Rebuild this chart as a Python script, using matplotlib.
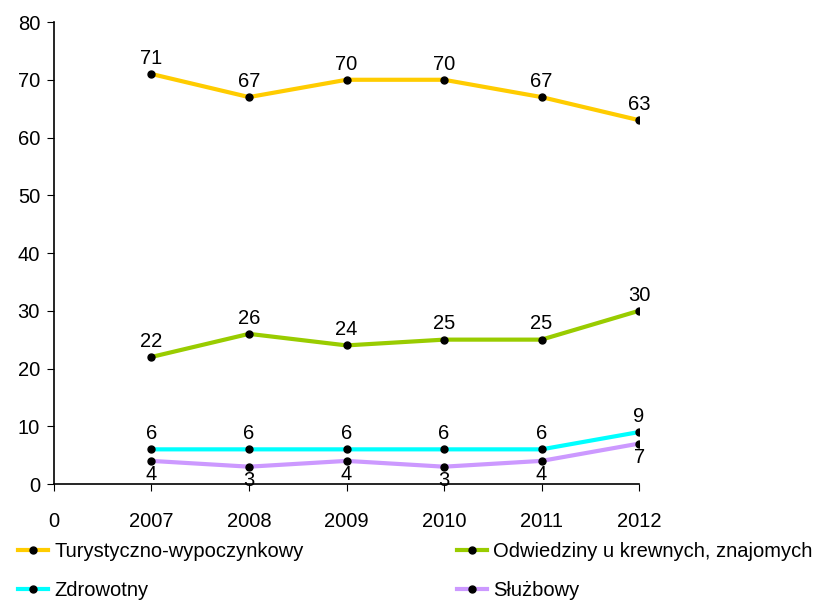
import matplotlib.pyplot as plt

# dane
lata = ["2007", "2008", "2009", "2010", "2011", "2012"]
turystyczno = [71, 67, 70, 70, 67, 63]
odwiedziny = [22, 26, 24, 25, 25, 30]
zdrowotny = [6, 6, 6, 6, 6, 9]
sluzbowy = [4, 3, 4, 3, 4, 7]

serie = [
    ("Turystyczno-wypoczynkowy", turystyczno, "#FFCC00", "above"),
    ("Odwiedziny u krewnych, znajomych", odwiedziny, "#99CC00", "above"),
    ("Zdrowotny", zdrowotny, "#00FFFF", "above"),
    ("Służbowy", sluzbowy, "#CC99FF", "below"),
]

plt.rcParams['font.family'] = ['Liberation Sans', 'DejaVu Sans']
plt.rcParams['font.size'] = 14.5

fig = plt.figure(figsize=(8.3, 6.05), dpi=100)
ax = fig.add_axes([0.065, 0.2, 0.705, 0.7636])

x = list(range(1, len(lata) + 1))
handles = []
for nazwa, wart, kolor, poz in serie:
    h, = ax.plot(x, wart, color=kolor, lw=3, marker='o', ms=5,
                 mfc='black', mec='black', label=nazwa, solid_joinstyle='round')
    handles.append(h)
    for xi, yi in zip(x, wart):
        if poz == "above":
            ax.annotate(str(yi), (xi, yi), xytext=(0, 4.5), textcoords='offset points',
                        ha='center', va='bottom')
        else:
            ax.annotate(str(yi), (xi, yi), xytext=(0, -3), textcoords='offset points',
                        ha='center', va='top')

ax.set_xlim(0, 6)
ax.set_ylim(0, 80)
ax.set_yticks(range(0, 81, 10))
ax.set_xticks(range(0, 7))
ax.set_xticklabels(["0"] + lata)
ax.tick_params(axis='x', direction='out', length=5, pad=15)
ax.tick_params(axis='y', direction='out', length=5, pad=5)
ax.spines['top'].set_visible(False)
ax.spines['right'].set_visible(False)
for s in ('left', 'bottom'):
    ax.spines[s].set_linewidth(1.2)

# kolejnosc wierszami: legenda matplotlib wypelnia kolumnami
kol = [handles[0], handles[2], handles[1], handles[3]]
fig.legend(handles=kol, loc='lower left', bbox_to_anchor=(0.0, -0.022),
           ncol=2, frameon=False, columnspacing=7.6, handlelength=1.5,
           handletextpad=0.3, labelspacing=1.0)

fig.savefig("out.png", dpi=100)
